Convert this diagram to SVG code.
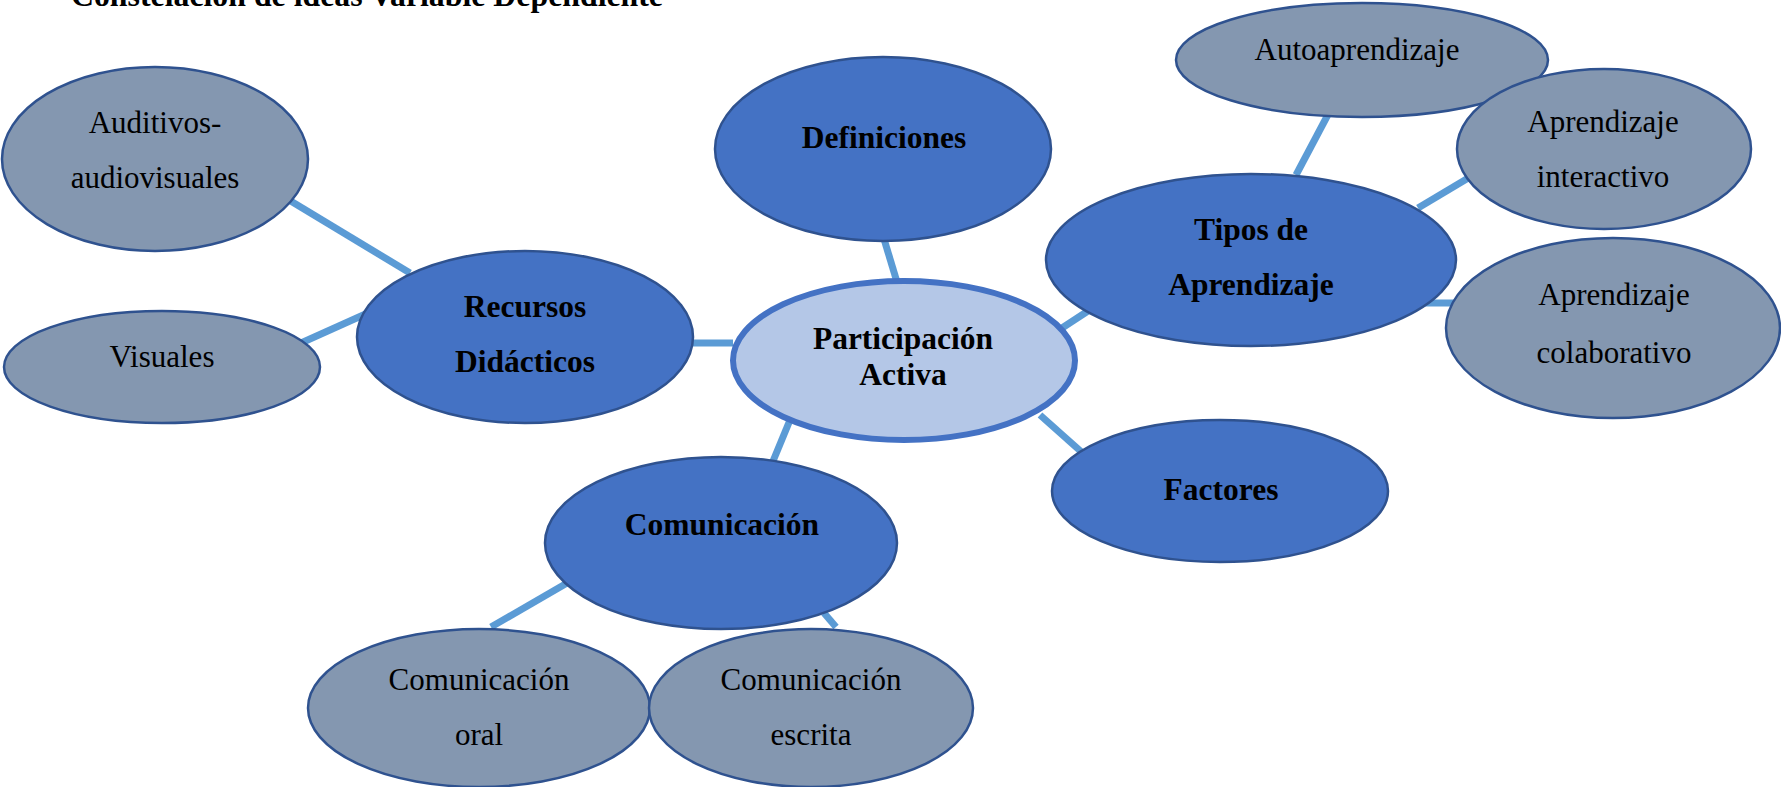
<svg xmlns="http://www.w3.org/2000/svg" width="1781" height="787" viewBox="0 0 1781 787">
<style>
.main{fill:#4472C4;stroke:#2F528F;stroke-width:2.5}
.sub{fill:#8497B0;stroke:#2F528F;stroke-width:2.5}
.center{fill:#B4C7E7;stroke:#4472C4;stroke-width:6}
.con line{stroke:#5B9BD5;stroke-width:7}
.b{font-family:"Liberation Serif","Times New Roman",serif;font-weight:bold;font-size:31.5px;fill:#000;text-anchor:middle}
.r{font-family:"Liberation Serif","Times New Roman",serif;font-size:31px;fill:#000;text-anchor:middle}
</style>
<rect width="1781" height="787" fill="#fff"/>
<text x="71" y="6" font-family="Liberation Serif, Times New Roman, serif" font-weight="bold" font-size="31.5" textLength="592" lengthAdjust="spacingAndGlyphs">Constelación de ideas Variable Dependiente</text>
<g id="connectors" class="con">
<line x1="289" y1="200" x2="410" y2="273"/>
<line x1="301" y1="343" x2="370" y2="312"/>
<line x1="693" y1="343" x2="733" y2="343"/>
<line x1="884" y1="239" x2="897" y2="282"/>
<line x1="1062" y1="328" x2="1088" y2="311"/>
<line x1="1040" y1="415" x2="1086" y2="456"/>
<line x1="790" y1="420" x2="771" y2="466"/>
<line x1="1296" y1="175" x2="1332" y2="107"/>
<line x1="1418" y1="208" x2="1475" y2="174"/>
<line x1="1417" y1="303" x2="1455" y2="303"/>
<line x1="574" y1="579" x2="491" y2="627"/>
<line x1="824" y1="613" x2="836" y2="627"/>
</g>
<g id="auditivos"><ellipse class="sub" cx="155" cy="159" rx="153" ry="92"/><text class="r" x="155" y="133">Auditivos-</text><text class="r" x="155" y="188">audiovisuales</text></g>
<g id="visuales"><ellipse class="sub" cx="162" cy="367" rx="158" ry="56"/><text class="r" x="162" y="367">Visuales</text></g>
<g id="recursos"><ellipse class="main" cx="525" cy="337" rx="168" ry="86"/><text class="b" x="525" y="317">Recursos</text><text class="b" x="525" y="372">Didácticos</text></g>
<g id="definiciones"><ellipse class="main" cx="883" cy="149" rx="168" ry="92"/><text class="b" x="884" y="148">Definiciones</text></g>
<g id="participacion"><ellipse class="center" cx="904" cy="360.5" rx="171" ry="79.5"/><text class="b" x="903" y="349">Participación</text><text class="b" x="903" y="385">Activa</text></g>
<g id="autoaprendizaje"><ellipse class="sub" cx="1362" cy="60" rx="186" ry="57"/><text class="r" x="1357" y="60">Autoaprendizaje</text></g>
<g id="interactivo"><ellipse class="sub" cx="1604" cy="149" rx="147" ry="80"/><text class="r" x="1603" y="132">Aprendizaje</text><text class="r" x="1603" y="187">interactivo</text></g>
<g id="tipos"><ellipse class="main" cx="1251" cy="260" rx="205" ry="86"/><text class="b" x="1251" y="240">Tipos de</text><text class="b" x="1251" y="295">Aprendizaje</text></g>
<g id="colaborativo"><ellipse class="sub" cx="1613" cy="328" rx="167" ry="90"/><text class="r" x="1614" y="305">Aprendizaje</text><text class="r" x="1614" y="363">colaborativo</text></g>
<g id="factores"><ellipse class="main" cx="1220" cy="491" rx="168" ry="71"/><text class="b" x="1221" y="500">Factores</text></g>
<g id="comunicacion"><ellipse class="main" cx="721" cy="543" rx="176" ry="86"/><text class="b" x="722" y="535">Comunicación</text></g>
<g id="oral"><ellipse class="sub" cx="479" cy="708" rx="171" ry="79"/><text class="r" x="479" y="690">Comunicación</text><text class="r" x="479" y="745">oral</text></g>
<g id="escrita"><ellipse class="sub" cx="811" cy="708" rx="162" ry="79"/><text class="r" x="811" y="690">Comunicación</text><text class="r" x="811" y="745">escrita</text></g>
</svg>
